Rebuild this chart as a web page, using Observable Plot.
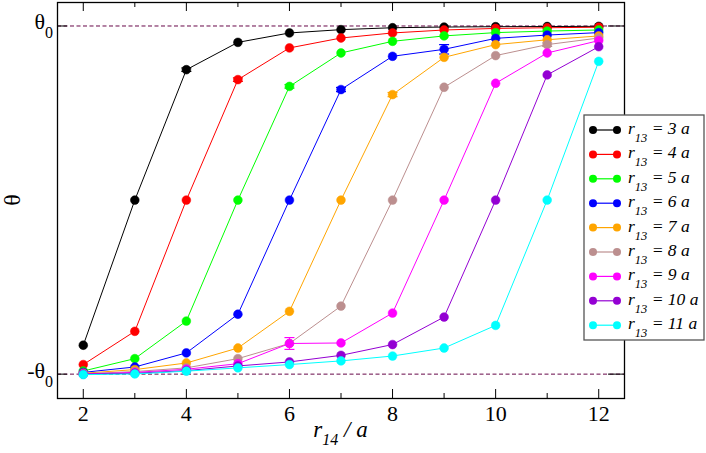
<!DOCTYPE html>
<html>
<head>
<meta charset="utf-8">
<script src="https://cdn.jsdelivr.net/npm/d3@7"></script>
<script src="https://cdn.jsdelivr.net/npm/@observablehq/plot@0.6"></script>
<style>
  html, body { margin: 0; padding: 0; background: white; }
  #chart { width: 706px; height: 453px; }
  #chart svg text, #chart svg tspan { font-family: "Liberation Serif", "Times New Roman", Tinos, "Nimbus Roman", "DejaVu Serif", serif !important; }
</style>
</head>
<body>
<div id="chart"></div>
<script>
// ---- data ----
const r14 = [2, 3, 4, 5, 6, 7, 8, 9, 10, 11, 12];
const r13 = [3, 4, 5, 6, 7, 8, 9, 10, 11];
const colors = ["#000000", "#ff0000", "#00ff00", "#0000ff", "#ffa500", "#bc8f8f", "#ff00ff", "#9400d3", "#00ffff"];
const theta3  = [-0.834, 0.000, 0.749, 0.906, 0.960, 0.979, 0.990, 0.994, 0.996, 0.997, 0.998];
const theta4  = [-0.945, -0.754, 0.000, 0.692, 0.874, 0.931, 0.960, 0.977, 0.986, 0.990, 0.993];
const theta5  = [-0.982, -0.911, -0.695, 0.000, 0.653, 0.845, 0.912, 0.943, 0.962, 0.971, 0.977];
const theta6  = [-0.990, -0.959, -0.878, -0.656, 0.000, 0.635, 0.826, 0.866, 0.929, 0.948, 0.962];
const theta7  = [-0.995, -0.974, -0.936, -0.850, -0.639, 0.000, 0.606, 0.820, 0.893, 0.921, 0.943];
const theta8  = [-0.998, -0.985, -0.964, -0.911, -0.824, -0.609, 0.000, 0.648, 0.830, 0.893, 0.931];
const theta9  = [-0.999, -0.990, -0.972, -0.940, -0.824, -0.821, -0.649, 0.000, 0.671, 0.845, 0.916];
const theta10 = [-1.000, -0.995, -0.980, -0.953, -0.930, -0.892, -0.830, -0.672, 0.000, 0.719, 0.881];
const theta11 = [-1.003, -0.999, -0.983, -0.964, -0.945, -0.924, -0.896, -0.850, -0.720, 0.000, 0.797];
// visible error bars: series r13, r14, half-width
const errSeries = [9, 6, 7, 6, 5, 4, 8, 3];
const errX      = [6, 9, 8, 7, 6, 5, 11, 4];
const errVal    = [0.034, 0.027, 0.012, 0.012, 0.010, 0.010, 0.010, 0.010];
const xTicksMajor = [2, 4, 6, 8, 10, 12];
const xTicksMinor = [3, 5, 7, 9, 11];
const yTicks = [-1, 1];
const yTickLabels = ["-θ", "θ"];

// ---- build ----
const thetas = [theta3, theta4, theta5, theta6, theta7, theta8, theta9, theta10, theta11];
const series = r13.map((r, i) => ({
  r, color: colors[i],
  pts: r14.map((x, j) => ({x, y: thetas[i][j]}))
}));
const errs = errSeries.map((s, k) => {
  const i = r13.indexOf(s);
  const j = r14.indexOf(errX[k]);
  return {x: errX[k], y: thetas[i][j], e: errVal[k], color: colors[i]};
});

const W = 706, H = 453;
const mL = 57, mR = 82, mT = 2, mB = 55;
const innerW = W - mL - mR, innerH = H - mT - mB;
const serif = "Liberation Serif, Times New Roman, Tinos, Nimbus Roman, DejaVu Serif, serif";

const capSymbol = {
  draw(ctx, size) {
    const r = Math.sqrt(size / Math.PI);
    ctx.moveTo(-r, 0); ctx.lineTo(r, 0);
  }
};

const marks = [
  Plot.ruleY(yTicks, {y: d => d, stroke: "#670748", strokeWidth: 1, strokeDasharray: "4,2.5"})
];
series.forEach(s => {
  const es = errs.filter(e => e.color === s.color);
  marks.push(Plot.line(s.pts, {x: "x", y: "y", stroke: s.color, strokeWidth: 1}));
  if (es.length) {
    marks.push(Plot.ruleX(es, {x: "x", y1: d => d.y - d.e, y2: d => d.y + d.e, stroke: s.color, strokeWidth: 1}));
    marks.push(Plot.dot(es, {x: "x", y: d => d.y - d.e, r: 5, symbol: capSymbol, stroke: s.color, strokeWidth: 1.2}));
    marks.push(Plot.dot(es, {x: "x", y: d => d.y + d.e, r: 5, symbol: capSymbol, stroke: s.color, strokeWidth: 1.2}));
  }
  marks.push(Plot.dot(s.pts, {x: "x", y: "y", r: 4.4, fill: s.color, stroke: s.color, strokeWidth: 0.5}));
});
marks.push(
  Plot.tickX(xTicksMajor, {x: d => d, insetTop: innerH - 9, stroke: "black", strokeWidth: 1}),
  Plot.tickX(xTicksMajor, {x: d => d, insetBottom: innerH - 9, stroke: "black", strokeWidth: 1}),
  Plot.tickX(xTicksMinor, {x: d => d, insetTop: innerH - 5, stroke: "black", strokeWidth: 1}),
  Plot.tickX(xTicksMinor, {x: d => d, insetBottom: innerH - 5, stroke: "black", strokeWidth: 1}),
  Plot.tickY(yTicks, {y: d => d, insetRight: innerW - 10, stroke: "black", strokeWidth: 1}),
  Plot.tickY(yTicks, {y: d => d, insetLeft: innerW - 16, stroke: "black", strokeWidth: 1}),
  Plot.frame({stroke: "black", strokeWidth: 1.3}),
  Plot.axisX(xTicksMajor, {tickSize: 0, tickPadding: 7, fontSize: 22, fill: "black", label: null})
);

const svg = Plot.plot({
  width: W, height: H,
  marginLeft: mL, marginRight: mR, marginTop: mT, marginBottom: mB,
  style: {fontFamily: serif, background: "white", color: "black", overflow: "visible"},
  x: {domain: [1.5, 12.5]},
  y: {domain: [-1.14, 1.135], axis: null},
  marks
});
document.getElementById("chart").appendChild(svg);

const sx = svg.scale("x"), sy = svg.scale("y");
const g = d3.select(svg).append("g").attr("font-family", serif).attr("fill", "black");

// y tick labels with subscripts
yTicks.forEach((v, i) => {
  const t = g.append("text")
    .attr("x", mL - 4).attr("y", sy.apply(v) + 4)
    .attr("text-anchor", "end").attr("font-size", 22);
  t.append("tspan").text(yTickLabels[i]);
  t.append("tspan").attr("font-size", 16).attr("dy", 9).text("0");
});

// y label
g.append("text")
  .attr("transform", `translate(20, ${(mT + H - mB) / 2}) rotate(-90)`)
  .attr("text-anchor", "middle").attr("font-size", 24).text("θ");

// x label
{
  const t = g.append("text")
    .attr("x", mL + innerW / 2).attr("y", 437)
    .attr("text-anchor", "middle").attr("font-size", 23).attr("font-style", "italic");
  t.append("tspan").text("r");
  t.append("tspan").attr("font-size", 16).attr("dy", 8).text("14");
  t.append("tspan").attr("dy", -8).text(" / a");
}

// legend
{
  const lx = 584, ly = 115, lw = 120, lh = 225;
  const lg = d3.select(svg).append("g").attr("text-anchor", "start");
  lg.append("rect").attr("x", lx).attr("y", ly).attr("width", lw).attr("height", lh)
    .attr("fill", "white").attr("stroke", "#555").attr("stroke-width", 1.3);
  series.forEach((s, i) => {
    const yy = 130 + i * 24.4;
    lg.append("line").attr("x1", 593).attr("x2", 617).attr("y1", yy).attr("y2", yy)
      .attr("stroke", s.color).attr("stroke-width", 1.2);
    lg.append("circle").attr("cx", 593).attr("cy", yy).attr("r", 4).attr("fill", s.color);
    lg.append("circle").attr("cx", 617).attr("cy", yy).attr("r", 4).attr("fill", s.color);
    const t = lg.append("text").attr("x", 628).attr("y", yy + 4)
      .attr("text-anchor", "start")
      .attr("font-family", serif).attr("font-style", "italic").attr("font-size", 17.5).attr("fill", "black");
    t.append("tspan").text("r");
    t.append("tspan").attr("font-size", 12.5).attr("dy", 8).text("13");
    t.append("tspan").attr("dy", -8).text(` = ${s.r} a`);
  });
}
</script>
</body>
</html>
